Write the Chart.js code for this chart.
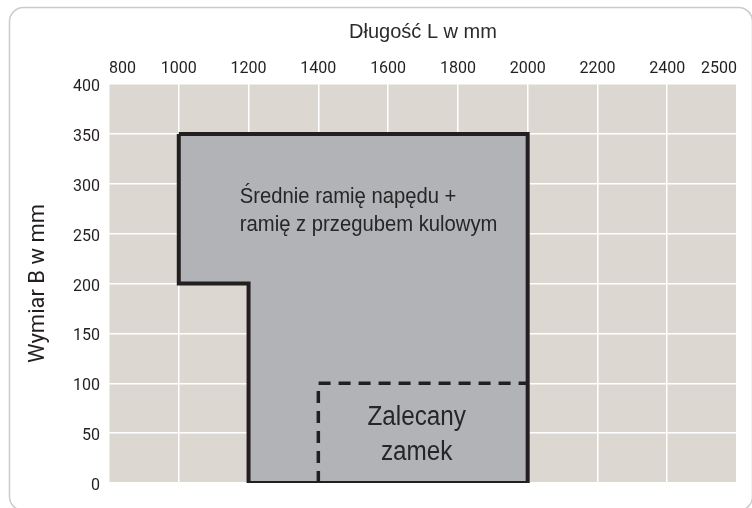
<!DOCTYPE html>
<html lang="pl">
<head>
<meta charset="utf-8">
<title>Wymiary</title>
<script src="https://cdn.jsdelivr.net/npm/chart.js@4/dist/chart.umd.min.js"></script>
<style>
  html, body { margin: 0; padding: 0; background: #fff; }
  canvas { display: block; }
</style>
</head>
<body>
<canvas id="sizeChart" width="752" height="508"></canvas>
<script>
// axis ticks (the length axis is not uniform: last step is only 100 mm)
const lengthTicks = [800, 1000, 1200, 1400, 1600, 1800, 2000, 2200, 2400, 2500];
const widthTicks = [0, 50, 100, 150, 200, 250, 300, 350, 400];

// outline of the drive arm area (L, B in mm)
const armL = [1000, 2000, 2000, 1200, 1200, 1000, 1000];
const armB = [350, 350, 0, 0, 200, 200, 350];

// recommended lock area (dashed)
const lockL = [1400, 1400, 2000];
const lockB = [0, 100, 100];

// text inside the areas, anchored in L/B units
const areaTexts = [
    { lines: ['Średnie ramię napędu +', 'ramię z przegubem kulowym'], l: 1175, b: 281, size: 22, gap: 28, align: 'left', squeeze: 0.92 },
    { lines: ['Zalecany', 'zamek'], l: 1682, b: 58, size: 27, gap: 35, align: 'center', squeeze: 0.9 }
];

// map mm onto tick index so the last (shorter) step gets the same width
function toIdx(mm) {
    for (let i = 1; i < lengthTicks.length; i++) {
        if (mm <= lengthTicks[i]) {
            const a = lengthTicks[i - 1], b = lengthTicks[i];
            return i - 1 + (mm - a) / (b - a);
        }
    }
    return lengthTicks.length - 1;
}

const toPoints = (ls, bs) => ls.map((l, i) => ({ x: toIdx(l), y: bs[i] }));

const tickFont = { family: 'Roboto, sans-serif', size: 16 };

// beige plot background + rounded frame around the whole figure
const backdrop = {
    id: 'backdrop',
    beforeDraw(chart) {
        const { ctx, scales: { x, y } } = chart;
        ctx.save();
        ctx.strokeStyle = '#cbcbcb';
        ctx.lineWidth = 1.5;
        ctx.beginPath();
        ctx.roundRect(9.5, 7.5, 743, 503, 14);
        ctx.stroke();
        ctx.fillStyle = '#ddd7d2';
        ctx.fillRect(x.left, y.top, x.right - x.left, y.bottom - y.top);
        ctx.restore();
    }
};

// condensed labels inside the shapes
const areaLabels = {
    id: 'areaLabels',
    afterDatasetsDraw(chart) {
        const { ctx, scales: { x, y } } = chart;
        ctx.save();
        areaTexts.forEach(t => {
            const px = x.getPixelForValue(toIdx(t.l));
            const py = y.getPixelForValue(t.b);
            ctx.font = t.size + "px 'Liberation Sans', Arial, sans-serif";
            ctx.fillStyle = '#262626';
            ctx.textBaseline = 'alphabetic';
            ctx.textAlign = t.align;
            t.lines.forEach((line, i) => {
                ctx.save();
                ctx.translate(px, py + i * t.gap);
                ctx.scale(t.squeeze, 1);
                ctx.fillText(line, 0, 0);
                ctx.restore();
            });
        });
        ctx.restore();
    }
};

const ctx = document.getElementById('sizeChart').getContext('2d');
new Chart(ctx, {
    type: 'scatter',
    data: {
        datasets: [
            {
                label: 'Zalecany zamek',
                data: toPoints(lockL, lockB),
                showLine: true,
                fill: false,
                borderColor: '#231f20',
                borderWidth: 3.5,
                borderDash: [12, 8],
                pointRadius: 0,
                order: 0
            },
            {
                label: 'Średnie ramię napędu',
                data: toPoints(armL, armB),
                showLine: true,
                fill: 'shape',
                backgroundColor: '#b2b3b7',
                borderColor: '#231f20',
                borderWidth: 4,
                borderJoinStyle: 'miter',
                pointRadius: 0,
                order: 1
            }
        ]
    },
    options: {
        responsive: false,
        animation: false,
        layout: { padding: { left: 0, top: 0, right: 15, bottom: 25 } },
        plugins: {
            legend: { display: false },
            tooltip: { enabled: false }
        },
        scales: {
            x: {
                type: 'linear',
                position: 'top',
                min: 0,
                max: lengthTicks.length - 1,
                afterFit: s => { s.height = 84; },
                grid: { color: '#ffffff', lineWidth: 1.5, drawTicks: false },
                border: { display: false },
                ticks: {
                    stepSize: 1,
                    autoSkip: false,
                    maxRotation: 0,
                    align: 'inner',
                    padding: 5,
                    color: '#231f20',
                    font: tickFont,
                    callback: v => lengthTicks[v]
                },
                title: {
                    display: true,
                    text: 'Długość L w mm',
                    color: '#2b2b2b',
                    font: { family: "'Liberation Sans', Arial, sans-serif", size: 20 },
                    padding: { top: 20, bottom: 0 }
                }
            },
            y: {
                min: 0,
                max: 400,
                afterFit: s => { s.width = 109; },
                grid: { color: '#ffffff', lineWidth: 1.5, drawTicks: false },
                border: { display: false },
                ticks: {
                    stepSize: 50,
                    padding: 9,
                    labelOffset: 3,
                    color: '#231f20',
                    font: tickFont,
                    callback: v => widthTicks.includes(v) ? v : ''
                },
                title: {
                    display: true,
                    text: 'Wymiar B w mm',
                    color: '#231f20',
                    font: { family: "Roboto, sans-serif", size: 22 },
                    padding: { top: 25, bottom: 0 }
                }
            }
        }
    },
    plugins: [backdrop, areaLabels]
});
</script>
</body>
</html>
